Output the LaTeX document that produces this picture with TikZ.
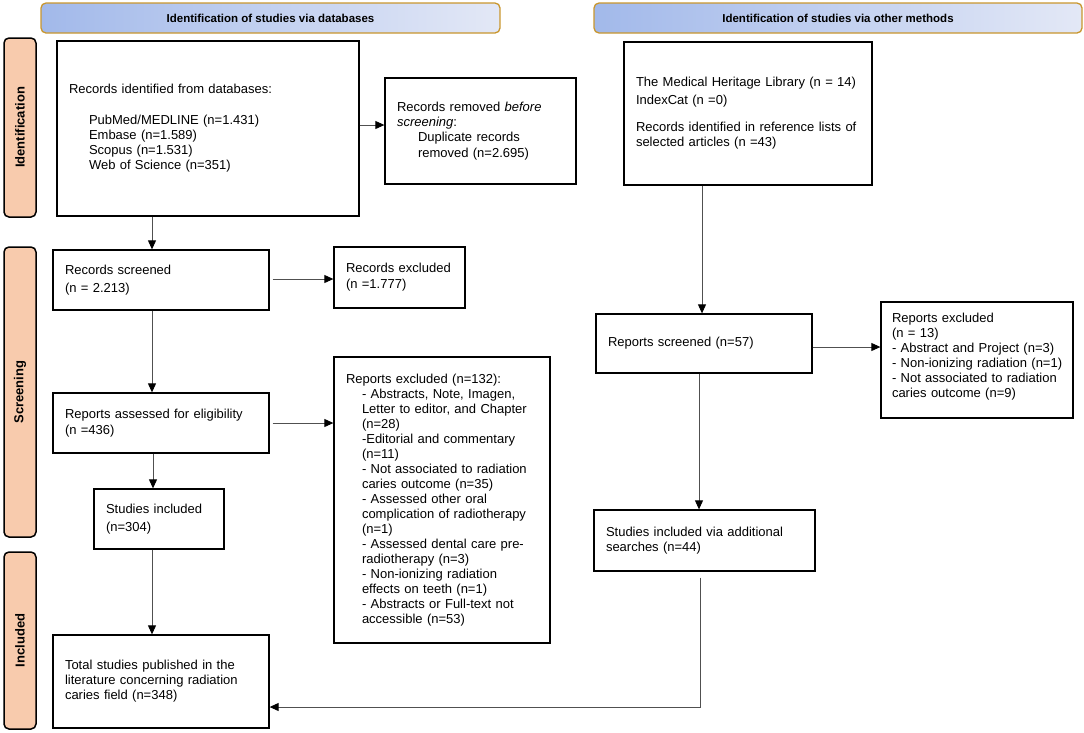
\documentclass[tikz,border=0pt]{standalone}
\usepackage{fontspec}
\setmainfont{Liberation Sans}
\usetikzlibrary{arrows.meta}
\definecolor{hdrgold}{HTML}{C9962E}
\definecolor{hdrleft}{HTML}{A2B9EA}
\definecolor{hdrright}{HTML}{E3E8F6}
\definecolor{peach}{HTML}{F8CBAD}
\definecolor{linegray}{HTML}{505050}
\newcommand{\boxlines}[1]{\begin{tabular}{@{}l@{}}#1\end{tabular}}
\newcommand{\ind}[1]{\hspace*{#1}}
\begin{document}
\begin{tikzpicture}[x=1pt,y=-1pt,
  box/.style={draw=black, line width=1.3pt, inner xsep=12pt, inner ysep=0pt,
    align=left, font=\fontsize{13}{15}\selectfont},
  hdr/.style={draw=hdrgold, line width=1.3pt, rounded corners=5pt,
    left color=hdrleft, right color=hdrright, inner sep=0pt,
    minimum height=30pt, font=\fontsize{11.5}{13}\selectfont\bfseries},
  side/.style={draw=black, fill=peach, line width=1.5pt, rounded corners=5pt,
    rotate=90, inner sep=0pt, minimum height=32pt,
    font=\fontsize{13}{15}\selectfont\bfseries},
  arr/.style={draw=linegray, line width=0.9pt,
    -{Triangle[length=9pt,width=8pt,color=black]}}
]
\useasboundingbox (0,0) rectangle (1084,732);

% headers
\node[hdr, minimum width=459pt] (h1) at (270.5,18) {Identification of studies via databases};
\node[hdr, minimum width=488pt] (h2) at (838,18) {Identification of studies via other methods};

% side labels
\node[side, minimum width=179pt] (s1) at (20,127.5) {Identification};
\node[side, minimum width=290pt] (s2) at (20,392) {Screening};
\node[side, minimum width=177pt] (s3) at (20,640.5) {Included};

% boxes
\node[box, minimum width=302pt, minimum height=175pt, text width=278pt] (b1) at (208,128.5)
 {\boxlines{Records identified from databases:\\[16pt]
 \ind{20pt}PubMed/MEDLINE (n=1.431)\\
 \ind{20pt}Embase (n=1.589)\\
 \ind{20pt}Scopus (n=1.531)\\
 \ind{20pt}Web of Science (n=351)}};

\node[box, minimum width=191pt, minimum height=106pt, text width=167pt] (b2) at (480.5,131)
 {\boxlines{Records removed \emph{before}\\
 \emph{screening}:\\
 \ind{21pt}Duplicate records\\[1pt]
 \ind{21pt}removed (n=2.695)}};

\node[box, minimum width=248pt, minimum height=143pt, text width=224pt] (b3) at (748,113.5)
 {\boxlines{The Medical Heritage Library (n = 14)\\[3pt]
 IndexCat (n =0)\\[12pt]
 Records identified in reference lists of\\
 selected articles (n =43)}};

\node[box, minimum width=216pt, minimum height=60pt, text width=192pt] (b4) at (161,280)
 {\boxlines{Records screened\\[3pt]
 (n = 2.213)}};

\node[box, minimum width=131pt, minimum height=61pt, text width=107pt] (b5) at (399.5,277.5)
 {\boxlines{Records excluded\\[1pt]
 (n =1.777)}};

\node[box, minimum width=216pt, minimum height=60pt, text width=192pt] (b6) at (161,423)
 {\boxlines{Reports assessed for eligibility\\[1pt]
 (n =436)}};

\node[box, minimum width=216pt, minimum height=286pt, text width=192pt] (b7) at (442,500)
 {\boxlines{Reports excluded (n=132):\\
 \ind{16pt}- Abstracts, Note, Imagen,\\
 \ind{16pt}Letter to editor, and Chapter\\
 \ind{16pt}(n=28)\\
 \ind{16pt}-Editorial and commentary\\
 \ind{16pt}(n=11)\\
 \ind{16pt}- Not associated to radiation\\
 \ind{16pt}caries outcome (n=35)\\
 \ind{16pt}- Assessed other oral\\
 \ind{16pt}complication of radiotherapy\\
 \ind{16pt}(n=1)\\
 \ind{16pt}- Assessed dental care pre-\\
 \ind{16pt}radiotherapy (n=3)\\
 \ind{16pt}- Non-ionizing radiation\\
 \ind{16pt}effects on teeth (n=1)\\
 \ind{16pt}- Abstracts or Full-text not\\
 \ind{16pt}accessible (n=53)}};

\node[box, minimum width=130pt, minimum height=60pt, text width=106pt] (b8) at (159,519)
 {\boxlines{Studies included\\[3pt]
 (n=304)}};

\node[box, minimum width=216pt, minimum height=93pt, text width=192pt] (b9) at (161,681.5)
 {\boxlines{Total studies published in the\\
 literature concerning radiation\\
 caries field (n=348)}};

\node[box, minimum width=216pt, minimum height=59pt, text width=192pt] (b10) at (704,343.5)
 {\boxlines{Reports screened (n=57)}};

\node[box, minimum width=192pt, minimum height=116pt, text width=170pt, inner xsep=11pt] (b11) at (977,360)
 {\boxlines{Reports excluded\\
 (n = 13)\\
 - Abstract and Project (n=3)\\
 - Non-ionizing radiation (n=1)\\
 - Not associated to radiation\\
 caries outcome (n=9)\\[6pt]}};

\node[box, minimum width=221pt, minimum height=61pt, text width=197pt] (b12) at (704.5,540.5)
 {\boxlines{Studies included via additional\\
 searches (n=44)}};

% connector x/y guides
\coordinate (xa) at (152,0);
\coordinate (xb) at (153,0);
\coordinate (xc) at (702,0);
\coordinate (xd) at (699,0);
\coordinate (ya) at (0,125);
\coordinate (yb) at (0,279);
\coordinate (yc) at (0,423);
\coordinate (yd) at (0,347);
\coordinate (k) at (700,707);

% connectors
\draw[arr] (b1.south -| xa) -- (b4.north -| xa);
\draw[arr] (b1.east |- ya) -- (b2.west |- ya);
\draw[arr, shorten <=3pt] (b4.east |- yb) -- (b5.west |- yb);
\draw[arr] (b4.south -| xa) -- (b6.north -| xa);
\draw[arr, shorten <=3pt] (b6.east |- yc) -- (b7.west |- yc);
\draw[arr] (b6.south -| xb) -- (b8.north -| xb);
\draw[arr] (b8.south -| xa) -- (b9.north -| xa);
\draw[arr] (b3.south -| xc) -- (b10.north -| xc);
\draw[arr] (b10.east |- yd) -- (b11.west |- yd);
\draw[arr] (b10.south -| xd) -- (b12.north -| xd);
\draw[arr, shorten <=6pt] (b12.south -| k) -- (k) -- (b9.east |- k);
\end{tikzpicture}
\end{document}
